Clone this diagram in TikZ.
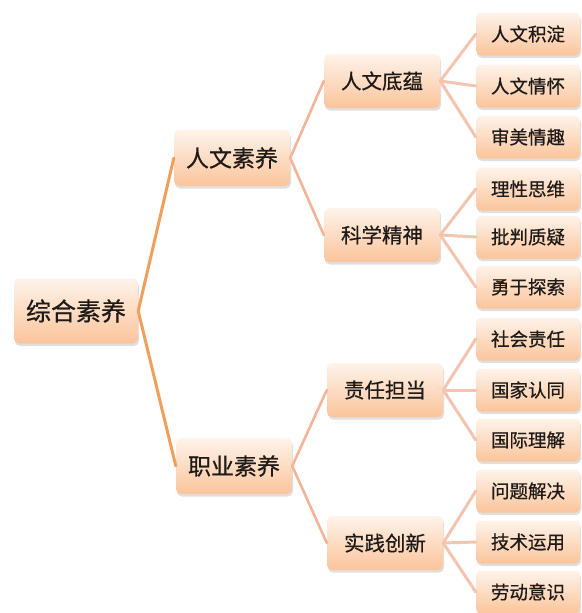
\documentclass[tikz,border=0pt]{standalone}
\usepackage{fontspec}
\newfontfamily\cjk[FakeBold=0.6]{Noto Sans CJK SC}
\usepackage{tikz}
\usetikzlibrary{shadows}
\definecolor{peachtop}{HTML}{FEF3EA}
\definecolor{peachbot}{HTML}{FBC49A}
\definecolor{rootline}{HTML}{F0A05C}
\definecolor{midline}{HTML}{F3B497}
\definecolor{leafline}{HTML}{F5C4B0}
\definecolor{boxtext}{HTML}{1E1A18}
\tikzstyle{box}      = [rounded corners=5pt, top color=peachtop, bottom color=peachbot, drop shadow={opacity=0.25, shadow xshift=1pt, shadow yshift=-2.5pt}, text=boxtext, inner sep=0pt]
\tikzstyle{rootbox}  = [box, minimum width=124pt, minimum height=65pt, font=\cjk\fontsize{25}{25}\selectfont]
\tikzstyle{mainbox}  = [box, minimum width=116pt, minimum height=56pt, font=\cjk\fontsize{23}{23}\selectfont]
\tikzstyle{subbox}   = [box, minimum width=116pt, minimum height=54pt, font=\cjk\fontsize{20.5}{20.5}\selectfont]
\tikzstyle{leafbox}  = [box, minimum width=104pt, minimum height=43pt, font=\cjk\fontsize{18.5}{18.5}\selectfont]
\tikzstyle{rootlink} = [rootline, line width=3pt, line cap=round]
\tikzstyle{midlink}  = [midline, line width=2.6pt, line cap=round]
\tikzstyle{leaflink} = [leafline, line width=3pt, line cap=round]

\begin{document}
\begin{tikzpicture}[x=1pt, y=-1pt]
		\useasboundingbox (0,0) rectangle (581,613);

		% root and first level
		\node[rootbox] (root) at (76,311) {综合素养};
		\node[mainbox] (renwen) at (232,158) {人文素养};
		\node[mainbox] (zhiye) at (234,466) {职业素养};

		% second level
		\node[subbox] (diyun) at (382,81) {人文底蕴};
		\node[subbox] (kexue) at (382,235) {科学精神};
		\node[subbox] (zeren) at (385,390) {责任担当};
		\node[subbox] (shijian) at (385,543) {实践创新};

		% leaves
		\node[leafbox] (jidian) at (528,34) {人文积淀};
		\node[leafbox] (qinghuai) at (528,86) {人文情怀};
		\node[leafbox] (shenmei) at (528,137) {审美情趣};
		\node[leafbox] (lixing) at (528,189) {理性思维};
		\node[leafbox] (pipan) at (528,237) {批判质疑};
		\node[leafbox] (yongyu) at (528,287) {勇于探索};
		\node[leafbox] (shehui) at (528,339) {社会责任};
		\node[leafbox] (guojia) at (528,390) {国家认同};
		\node[leafbox] (guoji) at (528,440) {国际理解};
		\node[leafbox] (wenti) at (528,491) {问题解决};
		\node[leafbox] (jishu) at (528,542) {技术运用};
		\node[leafbox] (laodong) at (528,592) {劳动意识};

		\draw[rootlink] (root.east) -- (renwen.west);
		\draw[rootlink] (root.east) -- (zhiye.west);

		\draw[midlink] (renwen.east) -- (diyun.west);
		\draw[midlink] (renwen.east) -- (kexue.west);
		\draw[midlink] (zhiye.east) -- (zeren.west);
		\draw[midlink] (zhiye.east) -- (shijian.west);

		\draw[leaflink] (diyun.east) -- (jidian.west);
		\draw[leaflink] (diyun.east) -- (qinghuai.west);
		\draw[leaflink] (diyun.east) -- (shenmei.west);
		\draw[leaflink] (kexue.east) -- (lixing.west);
		\draw[leaflink] (kexue.east) -- (pipan.west);
		\draw[leaflink] (kexue.east) -- (yongyu.west);
		\draw[leaflink] (zeren.east) -- (shehui.west);
		\draw[leaflink] (zeren.east) -- (guojia.west);
		\draw[leaflink] (zeren.east) -- (guoji.west);
		\draw[leaflink] (shijian.east) -- (wenti.west);
		\draw[leaflink] (shijian.east) -- (jishu.west);
		\draw[leaflink] (shijian.east) -- (laodong.west);
	\end{tikzpicture}
\end{document}
